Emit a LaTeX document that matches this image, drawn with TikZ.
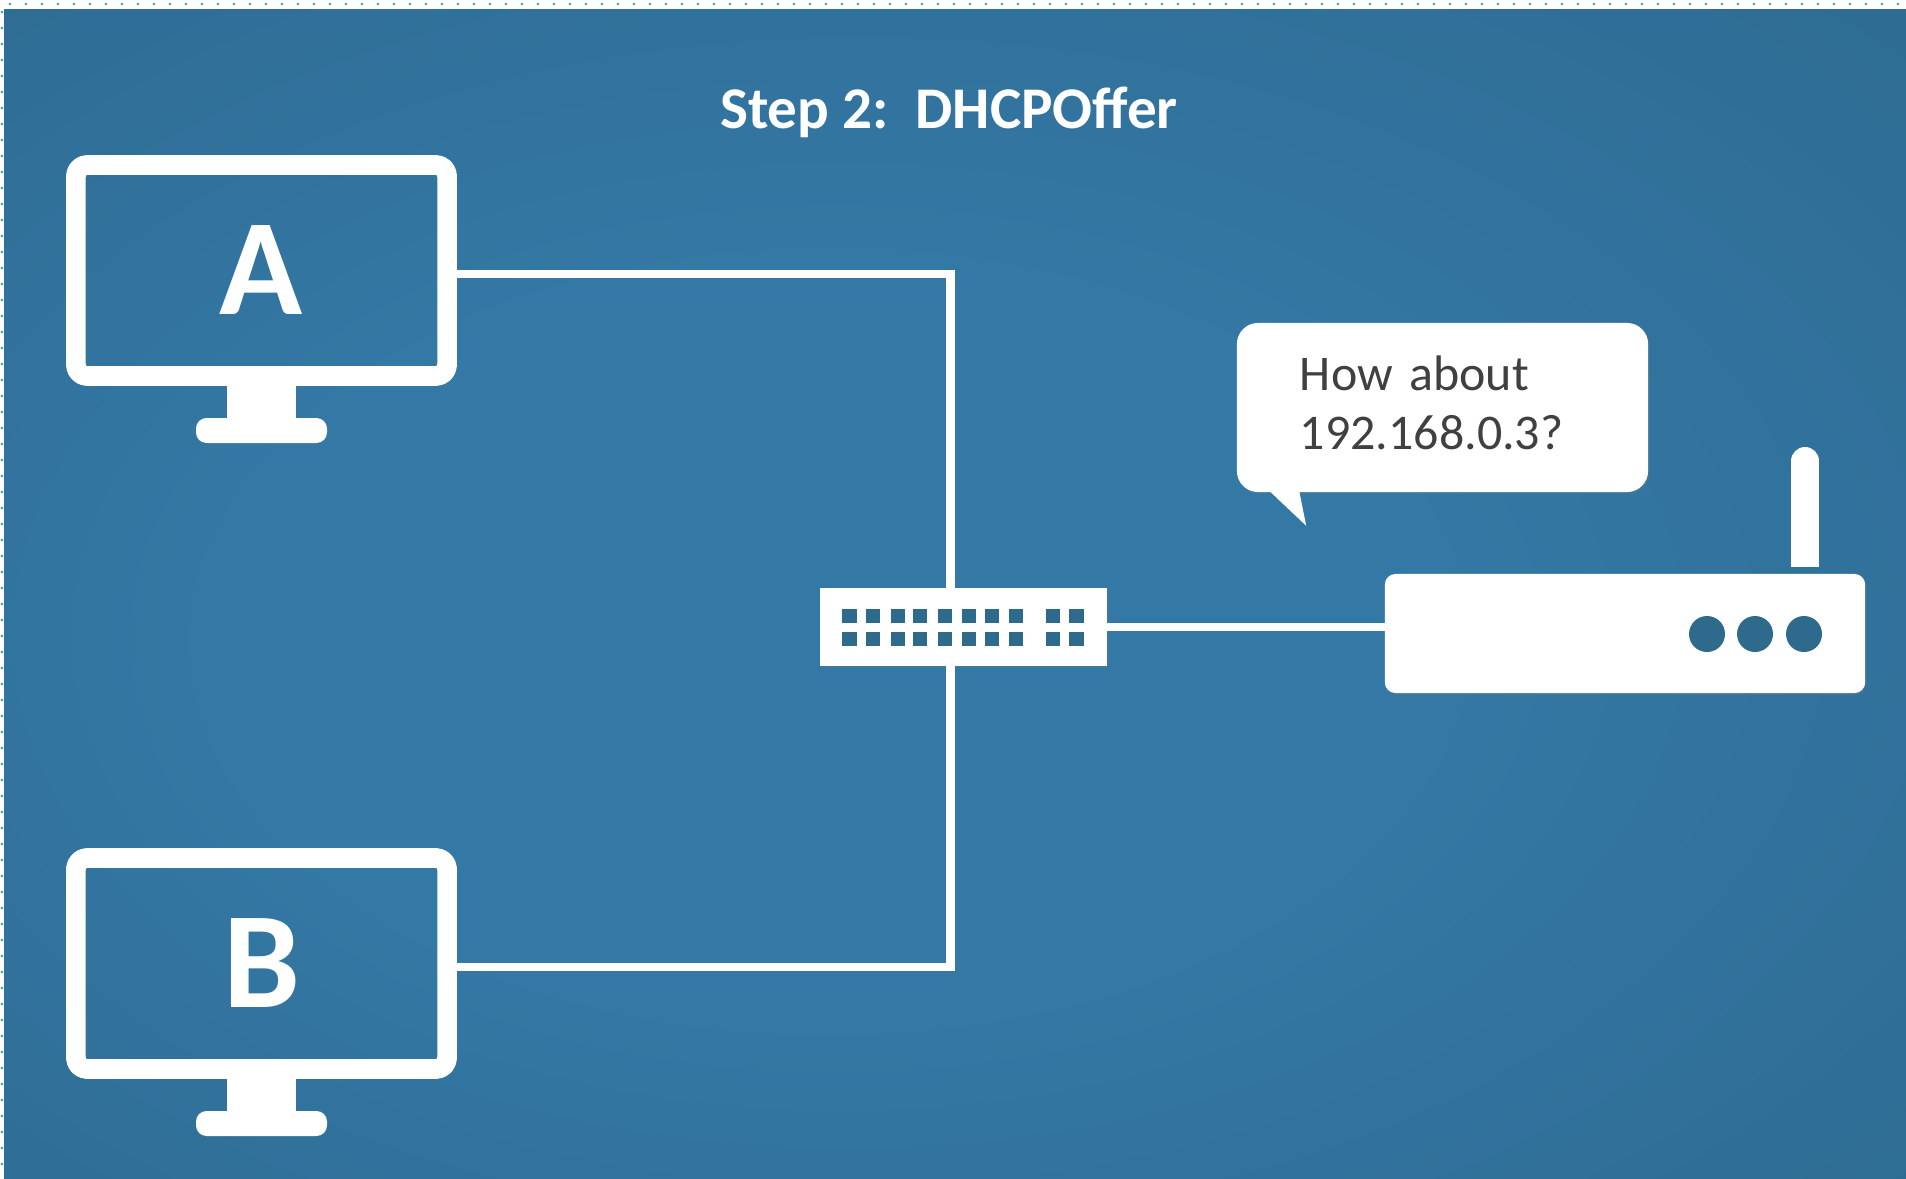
\documentclass[tikz,border=0pt]{standalone}
\usepackage{fontspec}
\usepackage{tikz}
\usetikzlibrary{positioning,calc,shadows}
\setmainfont{Carlito}
\definecolor{glowblue}{HTML}{3478A5}
\definecolor{edgeblue}{HTML}{2A6487}
\definecolor{portblue}{HTML}{2E6A8C}
\definecolor{dotcyan}{HTML}{12AEDC}
\pgfdeclareradialshading{bgglow}{\pgfpoint{-5bp}{-3bp}}{
    color(0bp)=(glowblue);
    color(16bp)=(glowblue);
    color(50bp)=(edgeblue)
}
\tikzset{
    softshadow/.style = {
        drop shadow={shadow xshift=0.4pt, shadow yshift=-0.6pt, opacity=0.18}
    },
    monitor/.style = {
        draw=white,
        shape=rectangle,
        rounded corners=3.2pt,
        line join=round,
        line width=5.6pt,
        minimum width=3.71cm,
        minimum height=2.11cm,
        inner sep=0pt,
        text=white,
        font=\bfseries\fontsize{39}{39}\selectfont
    },
    swbox/.style = {
        fill=white,
        shape=rectangle,
        minimum width=2.87cm,
        minimum height=0.78cm,
        inner sep=0pt,
        outer sep=0pt,
        softshadow
    },
    routerbox/.style = {
        fill=white,
        shape=rectangle,
        rounded corners=3pt,
        minimum width=4.8cm,
        minimum height=1.19cm,
        inner sep=0pt,
        outer sep=0pt,
        softshadow
    },
    bubble/.style = {
        fill=white,
        shape=rectangle,
        rounded corners=6pt,
        minimum width=4.11cm,
        minimum height=1.69cm,
        inner xsep=0.63cm,
        inner ysep=0pt,
        text width=2.85cm,
        text depth=19.7pt,
        align=left,
        text=black!75,
        font=\fontsize{14.2}{17}\selectfont,
        softshadow
    },
    wire/.style = {
        draw=white,
        line width=2.5pt
    },
    footplate/.style = {
        fill=white,
        rounded corners=3pt
    },
    port/.style = {
        fill=portblue
    },
    led/.style = {
        fill=portblue
    },
    guide/.style = {
        fill=dotcyan
    },
}

\begin{document}
\begin{tikzpicture}[x=0.01cm,y=-0.01cm]
    \useasboundingbox (0,0) rectangle (1906,1179);
    \fill[white] (0,0) rectangle (1906,1179);
    \shade[shading=bgglow] (4,10) rectangle (1906,1179);

    % dotted edge of the slide
    \foreach \x in {0,...,118} {
        \fill[guide] (9+16*\x,3) rectangle ++(2,2);
    }
    \foreach \y in {0,...,72} {
        \fill[guide] (1,11+16*\y) rectangle ++(2,2);
    }

    \node[font=\bfseries\fontsize{16.8}{20}\selectfont, text=white] (title) at (949,112) {Step 2:~~DHCPOffer};

    \node[monitor] (monA) at (261.5,270.5) {\raisebox{-1pt}{A}};
    \node[monitor] (monB) at (261.5,963.5) {\raisebox{-1pt}{B}};

    % stands below the screens
    \fill[white] (227,385) rectangle (296,420);
    \fill[footplate] (196,418) rectangle (327,443);
    \fill[white] (227,1078) rectangle (296,1113);
    \fill[footplate] (196,1111) rectangle (327,1136);

    \node[swbox] (sw) at (963.5,627) {};
    \node[routerbox] (router) at (1625,633.5) {};
    \node[bubble] (offer) at (1442.5,407.5) {How about\\192.168.0.3?};

    \fill[white] ($(offer.south west)+(33,-2)$) -- ($(offer.south west)+(70,33)$) -- ($(offer.south west)+(63,-2)$) -- cycle;

    \path[wire] (monA.-1) -| (sw.108);
    \path[wire] (monB.-1) -| (sw.252);
    \path[wire] (sw.east) -- (sw.east -| router.west);

    % antenna
    \fill[white] (1791,461) rectangle (1819,567);
    \fill[white] (1805,461) circle [radius=14];

    % ports of the switch
    \foreach \x/\w in {842/15,866/14,891/14,913/14,938/14,962/14,985/14,1009/14,1046/14,1069/15} {
        \fill[port] (\x,609) rectangle ++(\w,14);
        \fill[port] (\x,632) rectangle ++(\w,14);
    }

    \foreach \x in {1707,1755,1804} {
        \fill[led] (\x,634) circle [radius=18];
    }
\end{tikzpicture}
\end{document}
